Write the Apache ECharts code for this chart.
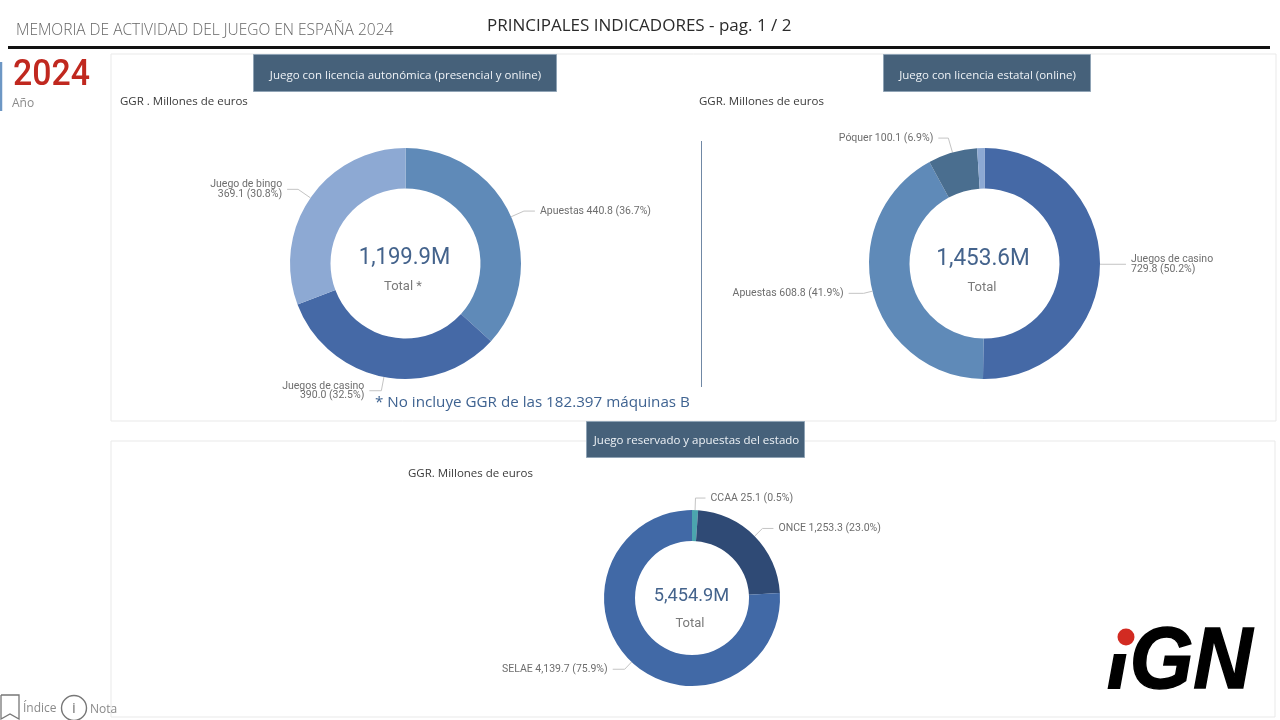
<!DOCTYPE html>
<html><head><meta charset="utf-8">
<style>html,body{margin:0;padding:0;background:#fff}#c{width:1280px;height:720px}</style>
<script src="https://cdn.jsdelivr.net/npm/echarts@6/dist/echarts.min.js"></script>
</head><body><div id="c"></div>
<script>
const autoNames = ['Apuestas','Juegos de casino','Juego de bingo'];
const autoValues = [440.8,390.0,369.1];
const autoPct = [36.7,32.5,30.8];
const autoTotal = '1,199.9M';
const estNames = ['Juegos de casino','Apuestas','Póquer','Otros'];
const estValues = [729.8,608.8,100.1,14.9];
const estPct = [50.2,41.9,6.9,1.0];
const estTotal = '1,453.6M';
const resNames = ['CCAA','ONCE','SELAE'];
const resValues = [25.1,1253.3,4139.7];
const resPct = [0.5,23.0,75.9];
const resTotal = '5,454.9M';

const F='Roboto', S='"Open Sans"';
function fmt(v){return v.toLocaleString('en-US',{minimumFractionDigits:1,maximumFractionDigits:1});}
function series(names,values,pct,colors,center,radius,twoLine,lines,minAngle){
  return {type:'pie',center,radius,startAngle:90,clockwise:true,minAngle:minAngle||0,avoidLabelOverlap:false,silent:true,
    animation:false,
    data:names.map((n,i)=>({name:n,value:values[i],
      itemStyle:{color:colors[i]},
      label:{show:!!lines[i],formatter:n+(twoLine[i]?'\n':' ')+fmt(values[i])+' ('+pct[i].toFixed(1)+'%)',
        fontFamily:F,fontSize:10.5,lineHeight:9.5,color:'#6e6e6e',distanceToLabelLine:5},
      labelLine:lines[i]?{show:true,length:lines[i][0],length2:lines[i][1],lineStyle:{color:'#c4c4c4',width:1}}:{show:false}
    }))
  };
}
function txt(x,y,text,size,color,font,extra){
  const sx=extra&&extra.sx; if(extra) delete extra.sx;
  const o={type:'text',x,y,silent:true,style:Object.assign({text,fontSize:size,fill:color,fontFamily:font||S,textVerticalAlign:'middle',verticalAlign:'middle'},extra||{})};
  if(sx) o.scaleX=sx;
  return o;
}
function rect(x,y,w,h,fill,stroke,lw){return {type:'rect',silent:true,shape:{x,y,width:w,height:h},style:{fill:fill||'none',stroke:stroke||'none',lineWidth:lw||1}};}
function ln(x1,y1,x2,y2,c,w){return {type:'line',silent:true,shape:{x1,y1,x2,y2},style:{stroke:c,lineWidth:w}};}
const mid={align:'center',textAlign:'center'};

const under=[
  rect(111,54,1165,367,'#fff','#e9e9e9'),
  rect(111,441,1164,276,'#fff','#e9e9e9')
];
const over=[
  txt(16,31,'MEMORIA DE ACTIVIDAD DEL JUEGO EN ESPAÑA 2024',15.5,'#666666',S,{fontWeight:300}),
  txt(487,26,'PRINCIPALES INDICADORES - pag. 1 / 2',17,'#2b2b2b',S),
  ln(8,47.5,1270,47.5,'#111',3),
  ln(1,62,1,111,'#6d97c4',2.5),
  txt(13,76,'2024',36,'#c0281f',F,{fontWeight:500,sx:0.94}),
  txt(12,104,'Año',12,'#8a8a8a',S),
  rect(253.5,54.5,303,37,'#46617a','#8fa3b5'),
  txt(405.5,75.5,'Juego con licencia autonómica (presencial y online)',11.5,'#eef2f6',S,Object.assign({},mid)),
  rect(883.5,54.5,207,37,'#46617a','#8fa3b5'),
  txt(987.5,75.5,'Juego con licencia estatal (online)',11.5,'#eef2f6',S,Object.assign({},mid)),
  rect(586.5,421.5,218,36,'#46617a','#8fa3b5'),
  txt(696.5,441,'Juego reservado y apuestas del estado',11.5,'#eef2f6',S,Object.assign({},mid)),
  txt(120,102,'GGR . Millones de euros',11.5,'#3a3a3a',S),
  txt(699,102,'GGR. Millones de euros',11.5,'#3a3a3a',S),
  txt(408,474,'GGR. Millones de euros',11.5,'#3a3a3a',S),
  ln(701.5,141,701.5,387,'#7088a5',1),
  txt(375,403,'* No incluye GGR de las 182.397 máquinas B',15.2,'#3f6391',S),
  txt(404.5,258,autoTotal,24,'#44638c',F,Object.assign({sx:0.92},mid)),
  txt(403,287,'Total *',13,'#7a7a7a',F,Object.assign({},mid)),
  txt(983,259,estTotal,24,'#44638c',F,Object.assign({sx:0.94},mid)),
  txt(982,288,'Total',13,'#7a7a7a',F,Object.assign({},mid)),
  txt(691.5,596,resTotal,19,'#44638c',F,Object.assign({sx:0.96},mid)),
  txt(690,624,'Total',13,'#7a7a7a',F,Object.assign({},mid)),
  {type:'polyline',silent:true,shape:{points:[[1,695],[19,695],[19,719],[10,714],[1,719],[1,695]]},style:{fill:'none',stroke:'#777',lineWidth:1.3}},
  txt(23,709,'Índice',12,'#8a8a8a',S),
  {type:'circle',silent:true,shape:{cx:74,cy:708,r:12.5},style:{fill:'none',stroke:'#777',lineWidth:1.4}},
  txt(74,709,'i',15,'#777',S,Object.assign({},mid)),
  txt(90,710,'Nota',12,'#8a8a8a',S),
  txt(1107,664,'iGN',87,'#000','"Liberation Sans"',{fontWeight:'bold',fontStyle:'italic',stroke:'#000',lineWidth:1.5,sx:0.94}),
  {type:'polygon',silent:true,shape:{points:[[1116,620],[1138,620],[1131,654],[1109,654]]},style:{fill:'#fff'}},
  {type:'circle',silent:true,shape:{cx:1126,cy:637,r:8.5},style:{fill:'#d22b22'}}
];

const chart=echarts.init(document.getElementById('c'),null,{renderer:'canvas'});
chart.setOption({
  animation:false,backgroundColor:'#fff',
  graphic:{elements:under.map(e=>Object.assign(e,{z:-10})).concat(over.map(e=>Object.assign(e,{z:100})))},
  series:[
    series(autoNames,autoValues,autoPct,['#5f8ab8','#4569a6','#8da9d3'],[405.5,263.5],[75,115.5],[0,1,1],[[14,11],[14,12],[15,11]]),
    series(estNames,estValues,estPct,['#4569a6','#5f8ab8','#4a6e8f','#8da9d3'],[984.5,263.5],[75,115.5],[1,0,0,0],[[3,23],[9,15],[15,10],null]),
    series(resNames,resValues,resPct,['#4ba5ae','#2f4a75','#4169a6'],[692,598],[57,88],[0,0,0],[[12,10],[11,11],[10,12]],4)
  ]
});
</script></body></html>
